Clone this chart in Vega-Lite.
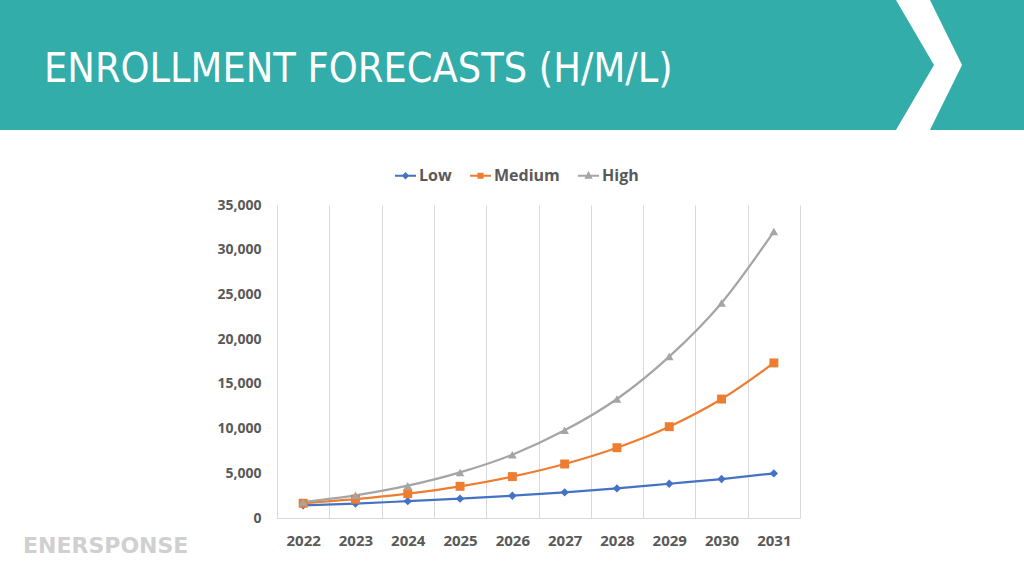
{
  "$schema": "https://vega.github.io/schema/vega-lite/v6.json",
  "padding": 0,
  "background": "white",
  "config": {"view": {"stroke": null}},
  "spacing": 68,
  "vconcat": [
    {
      "spacing": 0,
      "hconcat": [
        {
          "width": 834,
          "height": 130,
          "view": {"fill": "#33ADA9", "stroke": null},
          "title": {
            "text": "ENROLLMENT FORECASTS (H/M/L)",
            "orient": "top",
            "anchor": "start",
            "frame": "group",
            "baseline": "alphabetic",
            "offset": -123,
            "dx": 44,
            "color": "#FFFFFF",
            "font": "Liberation Sans Narrow, DejaVu Sans Condensed, Open Sans",
            "fontSize": 41,
            "fontWeight": "normal"
          },
          "data": {"values": [{"t": ""}]},
          "mark": {"type": "text"},
          "encoding": {"text": {"field": "t"}}
        },
        {
          "width": 190,
          "height": 130,
          "view": {"fill": "#33ADA9", "stroke": null},
          "data": {"values": [{"k": "chevron"}]},
          "mark": {
            "type": "point",
            "filled": true,
            "color": "#FFFFFF",
            "opacity": 1,
            "strokeWidth": 0,
            "size": 16900,
            "shape": "M-0.508,-1L0.015,-1L0.508,0L0.015,1L-0.508,1L0.077,0Z"
          },
          "encoding": {}
        }
      ]
    },
    {
      "spacing": 0,
      "hconcat": [
        {
          "width": 1,
          "height": 313,
          "data": {"values": [{"t": ""}]},
          "mark": {"type": "text"},
          "encoding": {"text": {"field": "t"}}
        },
        {
          "width": 523,
          "height": 313,
          "title": {
            "text": "ENERSPONSE",
            "orient": "bottom",
            "anchor": "start",
            "frame": "bounds",
            "offset": -12,
            "dx": 22,
            "color": "#D0D0D0",
            "font": "DejaVu Sans",
            "fontSize": 22,
            "fontWeight": "bold"
          },
          "data": {
            "values": [
              {"year": "2022", "series": "Low", "value": 1420},
              {"year": "2023", "series": "Low", "value": 1620},
              {"year": "2024", "series": "Low", "value": 1880},
              {"year": "2025", "series": "Low", "value": 2160},
              {"year": "2026", "series": "Low", "value": 2490},
              {"year": "2027", "series": "Low", "value": 2870},
              {"year": "2028", "series": "Low", "value": 3310},
              {"year": "2029", "series": "Low", "value": 3830},
              {"year": "2030", "series": "Low", "value": 4360},
              {"year": "2031", "series": "Low", "value": 4990},
              {"year": "2022", "series": "Medium", "value": 1650},
              {"year": "2023", "series": "Medium", "value": 2100},
              {"year": "2024", "series": "Medium", "value": 2720},
              {"year": "2025", "series": "Medium", "value": 3540},
              {"year": "2026", "series": "Medium", "value": 4630},
              {"year": "2027", "series": "Medium", "value": 6040},
              {"year": "2028", "series": "Medium", "value": 7860},
              {"year": "2029", "series": "Medium", "value": 10210},
              {"year": "2030", "series": "Medium", "value": 13300},
              {"year": "2031", "series": "Medium", "value": 17340},
              {"year": "2022", "series": "High", "value": 1790},
              {"year": "2023", "series": "High", "value": 2530},
              {"year": "2024", "series": "High", "value": 3610},
              {"year": "2025", "series": "High", "value": 5100},
              {"year": "2026", "series": "High", "value": 7080},
              {"year": "2027", "series": "High", "value": 9800},
              {"year": "2028", "series": "High", "value": 13310},
              {"year": "2029", "series": "High", "value": 18050},
              {"year": "2030", "series": "High", "value": 24050},
              {"year": "2031", "series": "High", "value": 32030}
            ]
          },
          "encoding": {
            "x": {
              "field": "year",
              "type": "ordinal",
              "bandPosition": 0.5,
              "scale": {"type": "band", "paddingInner": 0, "paddingOuter": 0},
              "axis": {
                "title": null,
                "labelAngle": 0,
                "tickBand": "extent",
                "ticks": false,
                "grid": true,
                "gridColor": "#D9D9D9",
                "gridWidth": 1,
                "domainColor": "#D9D9D9",
                "domainWidth": 1,
                "labelPadding": 15,
                "labelFont": "Open Sans",
                "labelFontSize": 15,
                "labelFontWeight": "bold",
                "labelColor": "#595959"
              }
            },
            "y": {
              "field": "value",
              "type": "quantitative",
              "scale": {"domain": [0, 35000], "nice": false},
              "axis": {
                "title": null,
                "values": [0, 5000, 10000, 15000, 20000, 25000, 30000, 35000],
                "format": ",.0f",
                "grid": false,
                "domain": false,
                "ticks": false,
                "labelPadding": 16,
                "minExtent": 276,
                "labelFont": "Open Sans",
                "labelFontSize": 14,
                "labelFontWeight": "bold",
                "labelColor": "#595959"
              }
            },
            "color": {
              "field": "series",
              "type": "nominal",
              "scale": {"domain": ["Low", "Medium", "High"], "range": ["#4472C4", "#ED7D31", "#A5A5A5"]},
              "legend": {
                "title": null,
                "orient": "none",
                "direction": "horizontal",
                "legendX": 394,
                "legendY": 164,
                "padding": 0,
                "symbolSize": 441,
                "symbolStrokeWidth": 2,
                "labelOffset": 2,
                "columnPadding": 14,
                "labelFont": "Open Sans",
                "labelFontSize": 16,
                "labelFontWeight": "bold",
                "labelColor": "#595959",
                "encode": {
                  "symbols": {
                    "update": {
                      "shape": {"signal": "datum.value === 'Low' ? 'M-1,0L1,0M0,-0.22L0.22,0L0,0.22L-0.22,0Z' : datum.value === 'Medium' ? 'M-1,0L1,0M-0.2,-0.2L0.2,-0.2L0.2,0.2L-0.2,0.2Z' : 'M-1,0L1,0M0,-0.26L0.24,0.18L-0.24,0.18Z'"},
                      "fill": {"signal": "scale('color', datum.value)"},
                      "stroke": {"signal": "scale('color', datum.value)"},
                      "strokeWidth": {"value": 2},
                      "opacity": {"value": 1}
                    }
                  }
                }
              }
            }
          },
          "layer": [
            {
              "mark": {"type": "line", "interpolate": "monotone", "strokeWidth": 2.25}
            },
            {
              "transform": [{"filter": "datum.series === 'Low'"}],
              "mark": {"type": "point", "shape": "diamond", "size": 70, "filled": true, "opacity": 1, "strokeWidth": 0}
            },
            {
              "transform": [{"filter": "datum.series === 'Medium'"}],
              "mark": {"type": "point", "shape": "square", "size": 80, "filled": true, "opacity": 1, "strokeWidth": 0}
            },
            {
              "transform": [{"filter": "datum.series === 'High'"}],
              "mark": {"type": "point", "shape": "triangle-up", "size": 75, "filled": true, "opacity": 1, "strokeWidth": 0}
            }
          ]
        }
      ]
    }
  ]
}
